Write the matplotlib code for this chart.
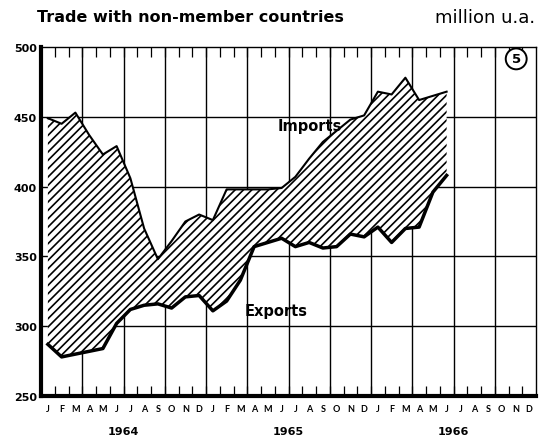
import numpy as np
import matplotlib
matplotlib.use("Agg")
from matplotlib import pyplot as plt

# monthly values, Jan 1964 - Jun 1966 (million u.a.)
imports = [449, 445, 453, 437, 423, 429, 406, 370, 348, 361, 375, 380,
           376, 398, 398, 398, 398, 399, 407, 420, 432, 440, 448, 451,
           468, 466, 478, 462, 465, 468]
exports = [287, 278, 280, 282, 284, 302, 312, 315, 316, 313, 321, 322,
           311, 318, 333, 357, 360, 363, 357, 360, 356, 357, 366, 364,
           371, 360, 370, 371, 396, 408]
month_labels = list("JFMAMJJASOND") * 3
years = ["1964", "1965", "1966"]
y_ticks = [250, 300, 350, 400, 450, 500]

plt.rcParams["font.family"] = ["DejaVu Sans"]
plt.rcParams["hatch.linewidth"] = 1.2

fig = plt.figure(figsize=(5.39, 4.39), dpi=100)
ax = fig.add_axes([41 / 539, 1 - 397 / 439, 495 / 539, 349 / 439])

x = np.arange(len(imports)) + 0.5
ax.fill_between(x, exports, imports, facecolor="white", edgecolor="black",
                hatch="////", linewidth=0, zorder=2)
ax.plot(x, imports, color="black", lw=1.5, zorder=3)
ax.plot(x, exports, color="black", lw=2.5, zorder=3)

ax.set_xlim(0, 36)
ax.set_ylim(250, 500)

# grid: every 50 units, every quarter
for v in y_ticks[1:-1]:
    ax.axhline(v, color="black", lw=1.0, zorder=1)
for q in range(3, 36, 3):
    ax.axvline(q, color="black", lw=1.0, zorder=1)

# month ticks top and bottom
ax.set_xticks(range(1, 36))
ax.tick_params(axis="x", which="major", direction="in", length=7, width=0.9,
               top=True, bottom=True, labelbottom=False)
ax.set_xticks(np.arange(36) + 0.5, minor=True)
ax.set_xticklabels(month_labels, minor=True, fontsize=6.5, fontweight="bold",
                   family="Lato")
ax.tick_params(axis="x", which="minor", length=0, pad=6)

ax.set_yticks(y_ticks)
ax.set_yticklabels([str(v) for v in y_ticks], fontsize=8, fontweight="bold")
ax.tick_params(axis="y", length=0, pad=3)

for side in ["left", "bottom"]:
    ax.spines[side].set_linewidth(3.0)
for side in ["top", "right"]:
    ax.spines[side].set_linewidth(1.0)

for i, yr in enumerate(years):
    ax.text(6 + 12 * i, 225, yr, ha="center", va="center", fontsize=8,
            fontweight="bold", clip_on=False)

ax.text(21.9, 444, "Imports", ha="right", va="center", fontsize=10.5,
        fontweight="bold", zorder=4)
ax.text(14.8, 311, "Exports", ha="left", va="center", fontsize=10.5,
        fontweight="bold", zorder=4)

# panel number in a circle
ax.text(0.96, 0.966, "5", transform=ax.transAxes, ha="center", va="center",
        fontsize=9.5, fontweight="bold", zorder=6,
        bbox=dict(boxstyle="circle,pad=0.3", facecolor="white",
                  edgecolor="black", lw=1.4))

fig.text(37 / 539, 1 - 18 / 439, "Trade with non-member countries",
         ha="left", va="center", fontsize=11.5, fontweight="bold")
fig.text(535 / 539, 1 - 18 / 439, "million u.a.", ha="right", va="center",
         fontsize=13)

fig.savefig("out.png", dpi=100)
